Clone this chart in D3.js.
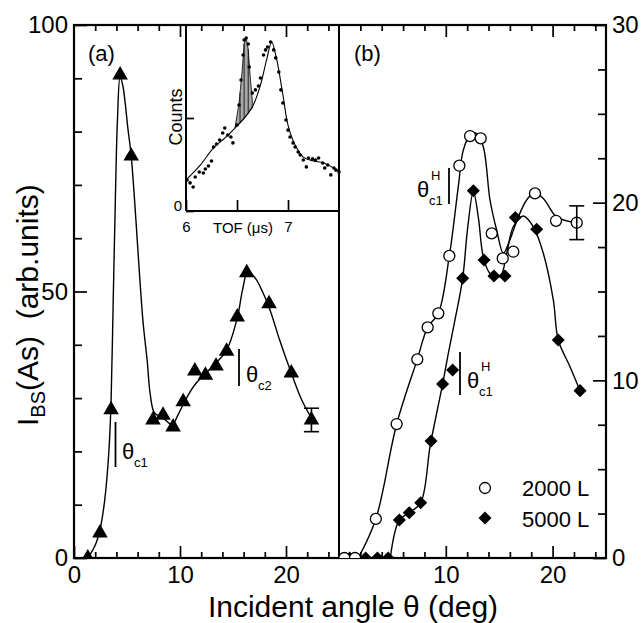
<!DOCTYPE html>
<html>
<head>
<meta charset="utf-8">
<script src="https://cdn.jsdelivr.net/npm/d3@7"></script>
<style>
body {margin:0; background:#fff;}
text {font-family:"Liberation Sans", Arial, Helvetica, sans-serif; fill:#000;}
</style>
</head>
<body>
<svg id="chart" width="641" height="623"></svg>
<script>
//DATA - panel (a), triangles
var angleA = [1.3, 2.45, 3.5, 4.35, 5.4, 7.45, 8.4, 9.35, 10.3, 11.4, 12.4, 13.4, 14.4, 15.4, 16.3, 18.4, 20.5, 22.4];
var ibsA   = [0, 4.7, 27.8, 90.6, 75.4, 25.9, 26.8, 24.6, 29.3, 35.1, 34.3, 36.0, 38.8, 45.2, 53.5, 47.7, 34.7, 25.9];
var errA   = [22.4, 25.9, 2.2];   // angle, value, half bar
var fitAX  = [1.3, 2.0, 2.45, 2.9, 3.3, 3.5, 3.7, 3.9, 4.1, 4.35, 4.6, 5.1, 5.4, 6.5, 6.9, 7.2, 7.6, 8.4, 9.25, 9.8, 10.5, 11.4, 12.45, 13.4, 14.4, 15.4, 15.9, 16.4, 17.1, 17.8, 18.5, 19.4, 20.5, 21.5, 22.5];
var fitAY  = [0, 2.4, 5.3, 10.9, 20.3, 29.6, 48.4, 67.2, 82.2, 90.2, 88.7, 80.3, 75.4, 44.6, 37.1, 30.6, 27.2, 26.3, 25.0, 26.8, 29.6, 32.5, 34.7, 36.6, 39.0, 45.0, 50.3, 53.7, 52.5, 49.9, 46.5, 40.9, 34.7, 29.6, 25.9];

//DATA - panel (b)
var angle2000 = [0.5, 1.5, 3.45, 5.4, 7.33, 8.3, 9.3, 10.33, 11.27, 12.27, 13.27, 14.3, 15.33, 16.32, 18.35, 20.32, 22.26];
var ibs2000   = [0, 0, 2.2, 7.54, 11.18, 12.98, 13.77, 17.0, 22.08, 23.75, 23.62, 18.27, 16.86, 17.24, 20.52, 18.98, 18.87];
var err2000   = [22.26, 18.87, 0.95];
var fit2000X  = [1.8, 3.45, 5.4, 7.33, 8.3, 9.3, 10.33, 11.17, 11.64, 12.27, 12.89, 13.51, 14.14, 14.76, 15.39, 16.0, 16.79, 17.57, 18.26, 19.13, 20.38, 22.26];
var fit2000Y  = [0, 2.2, 7.54, 11.18, 12.98, 13.77, 17.0, 20.9, 22.96, 23.8, 23.9, 23.15, 20.15, 18.46, 17.15, 17.9, 19.2, 20.15, 20.56, 20.24, 19.2, 18.87];

var angle5000 = [1.0, 2.5, 3.6, 4.6, 5.65, 6.58, 7.65, 8.62, 9.7, 10.64, 11.58, 12.58, 13.58, 14.51, 15.54, 16.51, 18.51, 20.53, 22.57];
var ibs5000   = [0, 0, 0, 0, 2.14, 2.55, 3.11, 6.58, 9.79, 10.58, 15.74, 20.67, 16.77, 15.87, 15.87, 19.17, 18.5, 12.27, 9.42];
var fit5000X  = [4.8, 5.65, 6.58, 7.65, 8.52, 9.14, 9.7, 10.2, 10.86, 11.58, 12.05, 12.58, 13.04, 13.51, 14.14, 15.07, 15.7, 16.32, 17.26, 18.2, 19.13, 20.07, 20.53, 21.63, 22.57];
var fit5000Y  = [0, 2.14, 2.55, 3.11, 6.26, 8.14, 9.79, 11.4, 13.4, 15.74, 18.6, 20.62, 19.2, 16.96, 16.02, 15.83, 17.15, 18.64, 19.25, 18.64, 17.15, 14.52, 12.27, 10.77, 9.42];

//DATA - inset TOF spectrum
var tofX = [6.01, 6.04, 6.07, 6.09, 6.13, 6.17, 6.19, 6.22, 6.25, 6.27, 6.30, 6.33, 6.36, 6.38, 6.41, 6.44, 6.46, 6.50, 6.52, 6.54, 6.56, 6.57, 6.59, 6.61, 6.62, 6.65, 6.68, 6.71, 6.73, 6.76, 6.78, 6.80, 6.83, 6.86, 6.88, 6.91, 6.93, 6.95, 6.98, 7.00, 7.02, 7.05, 7.07, 7.10, 7.12, 7.15, 7.18, 7.20, 7.24, 7.27, 7.30, 7.34, 7.36, 7.39, 7.42, 7.45, 7.47, 7.50];
var tofY = [16.7, 15.1, 12.9, 18.3, 21.0, 20.4, 22.6, 24.2, 26.9, 34.4, 36.0, 38.2, 41.9, 44.6, 40.9, 39.8, 36.6, 46.2, 57.0, 70.4, 83.9, 91.9, 93.0, 89.8, 77.4, 63.4, 65.1, 67.2, 71.5, 83.9, 86.6, 88.2, 90.9, 86.6, 82.3, 74.7, 65.1, 58.1, 48.9, 43.5, 39.8, 36.6, 34.4, 31.7, 30.1, 27.4, 23.7, 28.5, 28.0, 27.4, 28.5, 25.8, 23.1, 24.7, 19.4, 23.1, 22.0, 21.0];
var tofFitX = [6.00, 6.14, 6.27, 6.38, 6.48, 6.58, 6.66, 6.73, 6.79, 6.84, 6.89, 6.95, 7.00, 7.07, 7.15, 7.25, 7.35, 7.51];
var tofFitY = [16.7, 24.7, 33.9, 39.2, 44.6, 50.5, 57.0, 67.7, 81.2, 90.9, 81.2, 62.4, 46.2, 35.5, 29.0, 26.9, 25.8, 21.0];
var peakX    = [6.48, 6.52, 6.55, 6.57, 6.59, 6.61, 6.63, 6.65];
var peakTop  = [44.6, 58, 75, 90, 93, 87, 72, 59.7];
var peakBase = [44.6, 47, 48.8, 50, 51.2, 52.5, 54, 55.5];
var hatchX   = [6.53, 6.57, 6.61];

//TICKS
var xMajA = [0, 10, 20], xMajB = [10, 20];
var xMin = [2, 4, 6, 8, 12, 14, 16, 18, 22, 24];
var yMajA = [0, 50, 100], yMinA = [10, 20, 30, 40, 60, 70, 80, 90];
var yMajB = [0, 10, 20, 30], yMinB = [2.5, 5, 7.5, 12.5, 15, 17.5, 22.5, 25, 27.5];

//LAYOUT
var L = 74, M = 339, R = 606, T = 25, B = 558;
var font = '"Liberation Sans", Arial, Helvetica, sans-serif';
var svg = d3.select('#chart');

var xA = d3.scaleLinear().domain([0, 25]).range([L, M]);
var xB = d3.scaleLinear().domain([0, 25]).range([M, R]);
var yA = d3.scaleLinear().domain([0, 100]).range([B, T]);
var yB = d3.scaleLinear().domain([0, 30]).range([B, T]);
var xI = d3.scaleLinear().domain([6, 7.5]).range([186, M]);
var yI = d3.scaleLinear().domain([0, 100]).range([211, T]);

svg.append('defs').append('clipPath').attr('id', 'plotClip')
	.append('rect').attr('x', L).attr('y', T).attr('width', R - L).attr('height', B - T);

function zip(a, b) { return a.map(function(d, i) { return [d, b[i]]; }); }

function drawTicks(axisFn, scale, vals, size, translate, labels, pad, fs) {
	var ax = axisFn(scale).tickValues(vals).tickSizeInner(-size).tickSizeOuter(0).tickPadding(pad);
	if (!labels) ax.tickFormat('');
	var g = svg.append('g').attr('transform', translate).call(ax);
	g.select('.domain').remove();
	g.attr('font-family', font).attr('font-size', fs);
	g.selectAll('line').attr('stroke', '#000').attr('stroke-width', 1.7);
	g.selectAll('text').attr('fill', '#000');
	return g;
}

//INSET
var inset = svg.append('g');
var peakRows = peakX.map(function(d, i) { return [d, peakTop[i], peakBase[i]]; });
inset.append('path')
	.attr('d', d3.area().x(function(d) { return xI(d[0]); }).y0(function(d) { return yI(d[2]); }).y1(function(d) { return yI(d[1]); })(peakRows))
	.attr('fill', '#a8a8a8').attr('stroke', '#000').attr('stroke-width', 0.8);
var topAt = d3.scaleLinear().domain(peakX).range(peakTop);
var baseAt = d3.scaleLinear().domain(peakX).range(peakBase);
inset.selectAll('.hatch').data(hatchX).enter().append('line')
	.attr('x1', function(d) { return xI(d); }).attr('x2', function(d) { return xI(d); })
	.attr('y1', function(d) { return yI(baseAt(d)); }).attr('y2', function(d) { return yI(topAt(d)); })
	.attr('stroke', '#000').attr('stroke-width', 0.8);
inset.append('path')
	.attr('d', d3.line().x(function(d) { return xI(d[0]); }).y(function(d) { return yI(d[1]); }).curve(d3.curveCatmullRom)(zip(tofFitX, tofFitY)))
	.attr('fill', 'none').attr('stroke', '#000').attr('stroke-width', 1.1);
inset.selectAll('.dot').data(zip(tofX, tofY)).enter().append('circle')
	.attr('cx', function(d) { return xI(d[0]); }).attr('cy', function(d) { return yI(d[1]); })
	.attr('r', 1.8).attr('fill', '#000');
inset.append('line').attr('x1', xI(6)).attr('x2', xI(6)).attr('y1', T).attr('y2', yI(0)).attr('stroke', '#000').attr('stroke-width', 2);
inset.append('line').attr('x1', xI(6)).attr('x2', M).attr('y1', yI(0)).attr('y2', yI(0)).attr('stroke', '#000').attr('stroke-width', 2);
var gi = drawTicks(d3.axisBottom, xI, [6, 6.5, 7], 11, 'translate(0,' + yI(0) + ')', true, 10, 15);
gi.selectAll('text').text(function(d) { return d == 6.5 ? '' : d; });
var gl = drawTicks(d3.axisLeft, yI, [0, 50], 8, 'translate(' + xI(6) + ',0)', true, 4, 15);
gl.selectAll('text').text(function(d) { return d == 0 ? '0' : ''; }).attr('dy', '-0.05em');
svg.append('text').attr('x', 243).attr('y', 233).attr('text-anchor', 'middle').attr('font-size', 15).text('TOF (μs)');
svg.append('text').attr('transform', 'translate(182,117) rotate(-90)').attr('text-anchor', 'middle').attr('font-size', 18).text('Counts');

//FRAME
svg.append('rect').attr('x', L).attr('y', T).attr('width', R - L).attr('height', B - T)
	.attr('fill', 'none').attr('stroke', '#000').attr('stroke-width', 2.2);
svg.append('line').attr('x1', M).attr('x2', M).attr('y1', T).attr('y2', B).attr('stroke', '#000').attr('stroke-width', 2);

//AXES
drawTicks(d3.axisBottom, xA, xMajA, 12, 'translate(0,' + B + ')', true, 8, 24);
drawTicks(d3.axisBottom, xA, xMin, 6, 'translate(0,' + B + ')', false, 8, 24);
drawTicks(d3.axisBottom, xB, xMajB, 12, 'translate(0,' + B + ')', true, 8, 24);
drawTicks(d3.axisBottom, xB, xMin, 6, 'translate(0,' + B + ')', false, 8, 24);
drawTicks(d3.axisTop, xA, [10, 20], 12, 'translate(0,' + T + ')', false, 0, 24);
drawTicks(d3.axisTop, xA, xMin, 6, 'translate(0,' + T + ')', false, 0, 24);
drawTicks(d3.axisTop, xB, [10, 20], 12, 'translate(0,' + T + ')', false, 0, 24);
drawTicks(d3.axisTop, xB, xMin, 6, 'translate(0,' + T + ')', false, 0, 24);
drawTicks(d3.axisLeft, yA, yMajA, 13, 'translate(' + L + ',0)', true, 6, 24);
drawTicks(d3.axisLeft, yA, yMinA, 8, 'translate(' + L + ',0)', false, 6, 24);
drawTicks(d3.axisRight, yB, yMajB, 13, 'translate(' + R + ',0)', true, 6, 24);
drawTicks(d3.axisRight, yB, yMinB, 8, 'translate(' + R + ',0)', false, 6, 24);

//CURVES
function fitLine(xs, ys, sx, sy) {
	return d3.line().x(function(d) { return sx(d[0]); }).y(function(d) { return sy(d[1]); }).curve(d3.curveCatmullRom.alpha(0.5))(zip(xs, ys));
}
var plot = svg.append('g').attr('clip-path', 'url(#plotClip)');
plot.append('path').attr('d', fitLine(fitAX, fitAY, xA, yA)).attr('fill', 'none').attr('stroke', '#000').attr('stroke-width', 1.4);
plot.append('path').attr('d', fitLine(fit2000X, fit2000Y, xB, yB)).attr('fill', 'none').attr('stroke', '#000').attr('stroke-width', 1.4);
plot.append('path').attr('d', fitLine(fit5000X, fit5000Y, xB, yB)).attr('fill', 'none').attr('stroke', '#000').attr('stroke-width', 1.4);

//ERROR BARS
function errBar(e, sx, sy) {
	var g = svg.append('g').attr('stroke', '#000').attr('stroke-width', 1.6);
	g.append('line').attr('x1', sx(e[0])).attr('x2', sx(e[0])).attr('y1', sy(e[1] - e[2])).attr('y2', sy(e[1] + e[2]));
	[e[1] - e[2], e[1] + e[2]].forEach(function(v) {
		g.append('line').attr('x1', sx(e[0]) - 7.5).attr('x2', sx(e[0]) + 7.5).attr('y1', sy(v)).attr('y2', sy(v));
	});
}
errBar(errA, xA, yA);
errBar(err2000, xB, yB);

//MARKERS
var tri = d3.symbol().type(d3.symbolTriangle).size(105);
var sq = d3.symbol().type(d3.symbolSquare).size(85);
plot.selectAll('.tri').data(zip(angleA, ibsA)).enter().append('path')
	.attr('d', tri).attr('transform', function(d) { return 'translate(' + xA(d[0]) + ',' + yA(d[1]) + ')'; })
	.attr('fill', '#000');
plot.selectAll('.dia').data(zip(angle5000, ibs5000)).enter().append('path')
	.attr('d', sq).attr('transform', function(d) { return 'translate(' + xB(d[0]) + ',' + yB(d[1]) + ') rotate(45)'; })
	.attr('fill', '#000');
plot.selectAll('.circ').data(zip(angle2000, ibs2000)).enter().append('circle')
	.attr('cx', function(d) { return xB(d[0]); }).attr('cy', function(d) { return yB(d[1]); })
	.attr('r', 5.5).attr('fill', '#fff').attr('stroke', '#000').attr('stroke-width', 1.3);

//LEGEND
svg.append('circle').attr('cx', 485).attr('cy', 488).attr('r', 5.5).attr('fill', '#fff').attr('stroke', '#000').attr('stroke-width', 1.3);
svg.append('path').attr('d', sq).attr('transform', 'translate(485,518) rotate(45)').attr('fill', '#000');
svg.append('text').attr('x', 522).attr('y', 496).attr('font-size', 22).text('2000 L');
svg.append('text').attr('x', 522).attr('y', 527).attr('font-size', 22).text('5000 L');

//ANNOTATIONS
function bar(x, y1, y2) {
	svg.append('line').attr('x1', x).attr('x2', x).attr('y1', y1).attr('y2', y2).attr('stroke', '#000').attr('stroke-width', 1.8);
}
function theta(x, y, sub, sup) {
	svg.append('text').attr('x', x).attr('y', y).attr('font-size', 22).text('θ');
	svg.append('text').attr('x', x + 12).attr('y', y + 8).attr('font-size', 13).text(sub);
	if (sup) svg.append('text').attr('x', x + 14).attr('y', y - 17).attr('font-size', 13).text(sup);
}
bar(115.5, 422, 467); theta(122, 459, 'c1');
bar(239, 349, 386); theta(246, 382, 'c2');
bar(449, 168, 204); theta(417, 197, 'c1', 'H');
bar(460, 352, 395); theta(467, 388, 'c1', 'H');

svg.append('text').attr('x', 88).attr('y', 61).attr('font-size', 22).text('(a)');
svg.append('text').attr('x', 354).attr('y', 61).attr('font-size', 22).text('(b)');

//AXIS TITLES
var yt = svg.append('text').attr('transform', 'translate(38,426) rotate(-90)').attr('font-size', 30);
yt.append('tspan').text('I');
yt.append('tspan').attr('font-size', 20).attr('dy', 7).text('BS');
yt.append('tspan').attr('dy', -7).text('(As)\u00a0\u00a0(arb.units)');
svg.append('text').attr('x', 353).attr('y', 617).attr('text-anchor', 'middle').attr('font-size', 30).text('Incident angle θ (deg)');
</script>
</body>
</html>
